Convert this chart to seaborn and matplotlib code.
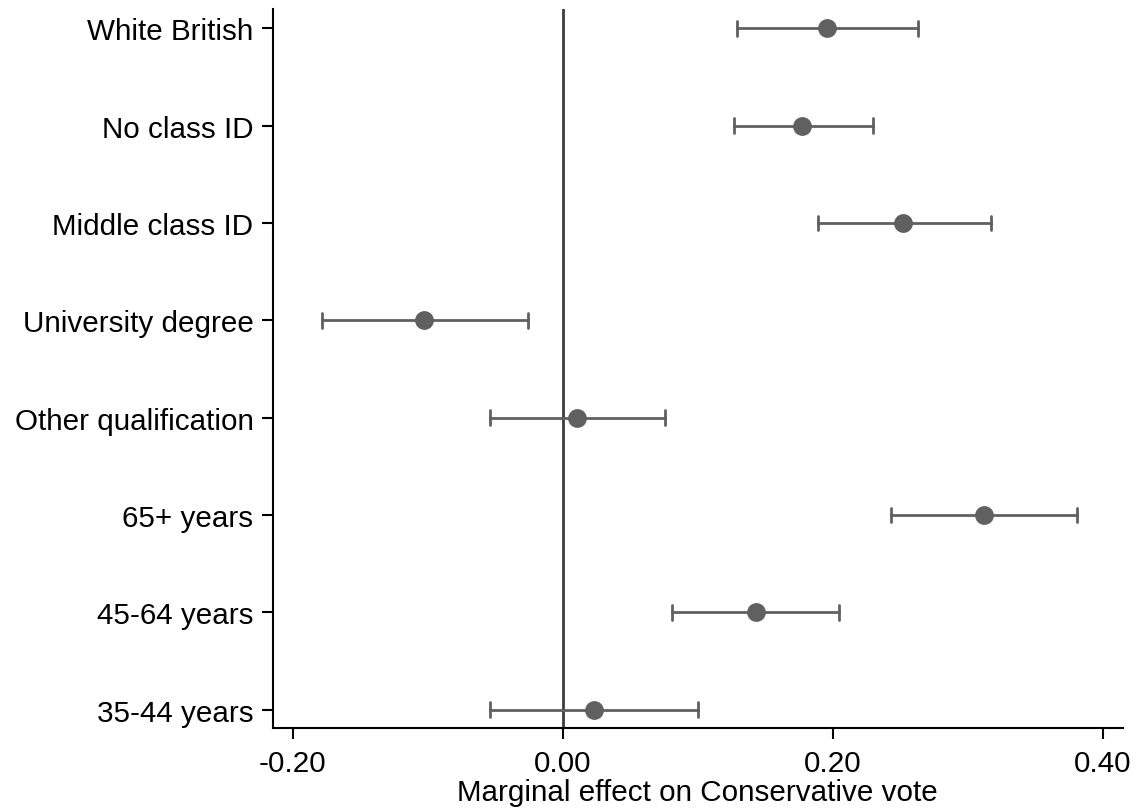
import pandas as pd
import seaborn as sns
import matplotlib.pyplot as plt

# Marginal effects (point estimate with lower/upper 95% bounds)
labels = ["White British", "No class ID", "Middle class ID", "University degree",
          "Other qualification", "65+ years", "45-64 years", "35-44 years"]
estimate = [0.196, 0.177, 0.252, -0.103, 0.011, 0.312, 0.143, 0.023]
lower = [0.129, 0.127, 0.189, -0.178, -0.054, 0.243, 0.081, -0.054]
upper = [0.263, 0.230, 0.317, -0.026, 0.076, 0.381, 0.205, 0.100]

# Long table: median of (lower, estimate, upper) is the estimate,
# and the 100% percentile interval spans lower..upper
rows = []
for lab, lo, est, hi in zip(labels, lower, estimate, upper):
    for v in (lo, est, hi):
        rows.append({"label": lab, "value": v})
df = pd.DataFrame(rows)

sns.set_style("white")
plt.rcParams["font.family"] = ["Liberation Sans", "DejaVu Sans"]
plt.rcParams["text.color"] = "black"
plt.rcParams["xtick.color"] = "black"
plt.rcParams["ytick.color"] = "black"
plt.rcParams["axes.labelcolor"] = "black"

fig = plt.figure(figsize=(11.42, 8.12), dpi=100)
ax = fig.add_axes([0.239, 0.102, 0.744, 0.886])

grey = "#606060"
ax.axvline(0, color="#3c3c3c", lw=2, zorder=1)
sns.pointplot(data=df, x="value", y="label", order=labels, orient="h",
              estimator="median", errorbar=("pi", 100), capsize=0.15,
              color=grey, linestyle="none", markersize=11.5,
              err_kws={"linewidth": 2}, ax=ax)

ax.set_xlim(-0.2146, 0.4148)
ax.set_ylim(len(labels) - 1 + 0.19, -0.2)
ax.set_xticks([-0.2, 0.0, 0.2, 0.4])
ax.set_xticklabels(["-0.20", "0.00", "0.20", "0.40"])
ax.set_xlabel("Marginal effect on Conservative vote", fontsize=21.3, labelpad=1)
ax.set_ylabel("")

sns.despine(ax=ax)
for s in ("left", "bottom"):
    ax.spines[s].set_linewidth(1.5)
    ax.spines[s].set_color("black")
ax.tick_params(axis="both", labelsize=21.3, direction="out", width=1.5,
               color="black", labelcolor="black")
ax.tick_params(axis="x", length=8, pad=7, bottom=True)
ax.tick_params(axis="y", length=8, pad=6, left=True)

fig.savefig("out.png", dpi=100)
